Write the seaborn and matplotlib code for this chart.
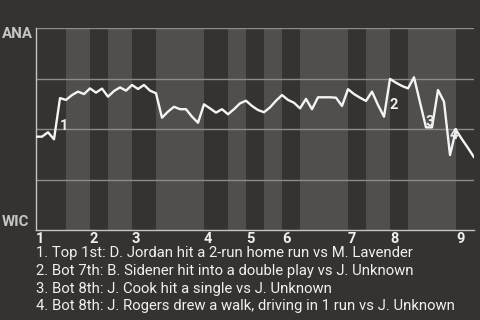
import matplotlib
matplotlib.use("Agg")
import matplotlib.pyplot as plt
import seaborn as sns
import pandas as pd
import numpy as np

# ---- data ----
win_prob = [0.462, 0.462, 0.484, 0.449, 0.653, 0.644, 0.668, 0.685, 0.673, 0.701,
            0.680, 0.700, 0.660, 0.688, 0.706, 0.690, 0.718, 0.698, 0.718, 0.690,
            0.677, 0.556, 0.586, 0.610, 0.598, 0.598, 0.561, 0.531, 0.622, 0.602,
            0.581, 0.598, 0.573, 0.598, 0.627, 0.640, 0.614, 0.594, 0.583, 0.607,
            0.640, 0.668, 0.644, 0.630, 0.602, 0.649, 0.598, 0.657, 0.657, 0.657,
            0.655, 0.614, 0.697, 0.673, 0.655, 0.639, 0.685, 0.619, 0.561, 0.748,
            0.729, 0.713, 0.701, 0.756, 0.632, 0.508, 0.508, 0.693, 0.635, 0.371,
            0.495, 0.449, 0.406, 0.360]
half_inning_edges = [0, 5, 9, 12, 16, 20, 28, 32, 35, 38, 41, 44, 52, 55, 59, 62, 70, 73]
inning_labels = ["1", "2", "3", "4", "5", "6", "7", "8", "9"]
event_plays = [4, 59, 65, 69]
event_labels = ["1", "2", "3", "4"]
event_texts = [
    "1. Top 1st: D. Jordan hit a 2-run home run vs M. Lavender",
    "2. Bot 7th: B. Sidener hit into a double play vs J. Unknown",
    "3. Bot 8th: J. Cook hit a single vs J. Unknown",
    "4. Bot 8th: J. Rogers drew a walk, driving in 1 run vs J. Unknown",
]
team_top = "ANA"
team_bottom = "WIC"
grid_levels = [0.25, 0.5, 0.75, 1.0]

# ---- style ----
BG = "#353330"
LIGHT = "#504f4d"
GRID = "#8c8b89"
AXIS = "#c4c4c2"
sns.set_theme(style="dark")
plt.rcParams["font.family"] = ["Roboto", "DejaVu Sans"]

df = pd.DataFrame({"play": np.arange(len(win_prob)), "prob": win_prob})

fig = plt.figure(figsize=(4.8, 3.2), dpi=100, facecolor=BG)
ax = fig.add_axes([36 / 480, 1 - 230 / 320, (474 - 36) / 480, (230 - 28) / 320])
ax.set_facecolor(BG)

# half-inning bands (top = dark, bottom = light)
for i in range(len(half_inning_edges) - 1):
    if i % 2 == 1:
        ax.axvspan(half_inning_edges[i], half_inning_edges[i + 1], color=LIGHT, lw=0, zorder=0)

for g in grid_levels:
    ax.axhline(g, color=GRID, lw=1.0, zorder=1)

sns.lineplot(data=df, x="play", y="prob", ax=ax, color="#f4f4f4", lw=1.7, zorder=3)

ax.set_xlim(half_inning_edges[0], half_inning_edges[-1])
ax.set_ylim(0, 1)
ax.set_xticks([])
ax.set_yticks([])
ax.set_xlabel("")
ax.set_ylabel("")
for s in ["top", "right"]:
    ax.spines[s].set_visible(False)
for s in ["left", "bottom"]:
    ax.spines[s].set_visible(True)
    ax.spines[s].set_color(AXIS)
    ax.spines[s].set_linewidth(1.0)

# event markers
for p, lab in zip(event_plays, event_labels):
    yv = (win_prob[p - 1] + win_prob[p]) / 2
    ax.text(p, yv, lab, ha="left", va="top", fontsize=10.5, fontweight="bold",
            color="#eeeeee", zorder=4)

# inning labels at start of each top half
trans = ax.get_xaxis_transform()
for k, lab in enumerate(inning_labels):
    ax.text(half_inning_edges[2 * k], -0.01, lab, transform=trans, ha="left", va="top",
            fontsize=10.5, fontweight="bold", color="#f0f0f0", clip_on=False)

# team labels
fig.text(2 / 480, 1 - 27 / 320, team_top, ha="left", va="top", fontsize=10.8,
         fontweight="bold", color="#c6c6c6")
fig.text(2 / 480, 1 - 225.5 / 320, team_bottom, ha="left", va="baseline", fontsize=10.8,
         fontweight="bold", color="#c6c6c6")

# event descriptions
for j, t in enumerate(event_texts):
    fig.text(36 / 480, 1 - (253 + 17.8 * j) / 320, t, ha="left", va="center",
             fontsize=10.75, color="#f0f0f0")

fig.savefig("out.png", dpi=100, facecolor=BG)
